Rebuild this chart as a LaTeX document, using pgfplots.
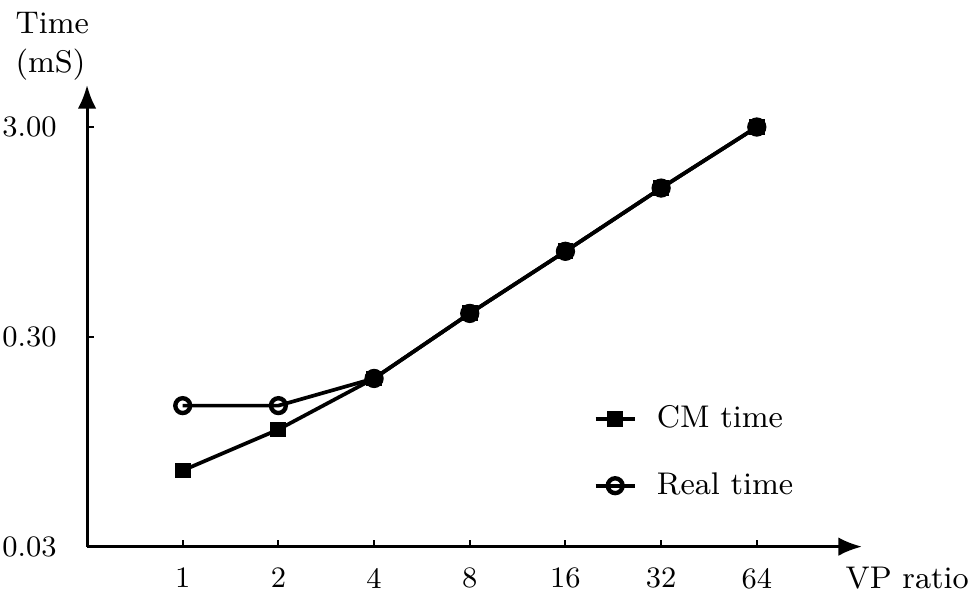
\documentclass[border=0pt]{standalone}
\usepackage{pgfplots}
\pgfplotsset{compat=1.18}
\usetikzlibrary{arrows.meta}

\begin{document}
\begin{tikzpicture}[font=\fontsize{9.3}{11.5}\selectfont]
\begin{semilogyaxis}[
  scale only axis,
  width=230pt, height=137pt,
  xmin=0, xmax=8.1,
  ymin=0.03, ymax=4.76,
  axis lines=left,
  axis line style={line width=0.9pt, -{Latex[length=7pt,width=5.5pt]}},
  xtick={1,...,7},
  xticklabels={1,2,4,8,16,32,64},
  ytick={0.03,0.3,3},
  yticklabels={0.03,0.30,3.00},
  yminorticks=false,
  tick align=inside,
  major tick length=2pt,
  tick style={line width=0.6pt, black},
  tick label style={font=\fontsize{8.8}{11}\selectfont},
  xticklabel style={yshift=-2.8pt},
  yticklabel style={xshift=-5.5pt},
  clip=false,
  legend style={draw=none, fill=none, at={(0.653,0.322)}, anchor=north west,
    row sep=7.8pt, cells={anchor=west}, inner sep=0pt,
    font=\fontsize{9.3}{11.5}\selectfont},
  legend image code/.code={%
    \draw[mark repeat=2, mark phase=2]
      plot coordinates {(0pt,0pt) (5.8pt,0pt) (11.6pt,0pt)};},
  /tikz/every odd column/.append style={column sep=4pt},
]
% measured (real) time per operation
\addplot[black, line width=1.1pt, mark=o, mark size=2.2pt,
  mark options={fill=white, line width=1.3pt}, forget plot]
  coordinates {(1,0.141) (2,0.141) (3,0.190) (4,0.388) (5,0.767) (6,1.535) (7,3.0)};
% CM time per operation
\addplot[black, line width=1.1pt, mark=square*, mark size=1.8pt]
  coordinates {(1,0.0692) (2,0.1085) (3,0.190) (4,0.388) (5,0.767) (6,1.535) (7,3.0)};
\addlegendentry{CM time}
\addlegendimage{black, line width=1.1pt, mark=o, mark size=2.2pt,
  mark options={fill=white, line width=1.3pt}}
\addlegendentry{Real time}
% both series coincide from VP ratio 4 upward
\addplot[only marks, black, mark=*, mark size=2.5pt, forget plot]
  coordinates {(3,0.190) (4,0.388) (5,0.767) (6,1.535) (7,3.0)};

\node[anchor=north west, inner sep=0pt] at (rel axis cs:0.978,-0.042) {VP ratio};
\node[anchor=north west, align=left, inner sep=0pt] at (rel axis cs:-0.093,1.158)
  {Time\\(mS)};
\coordinate (bbsw) at (rel axis cs:-0.1123,-0.119);
\coordinate (bbne) at (rel axis cs:1.138,1.184);
\end{semilogyaxis}
\pgfresetboundingbox
\path[use as bounding box] (bbsw) rectangle (bbne);
\end{tikzpicture}
\end{document}
